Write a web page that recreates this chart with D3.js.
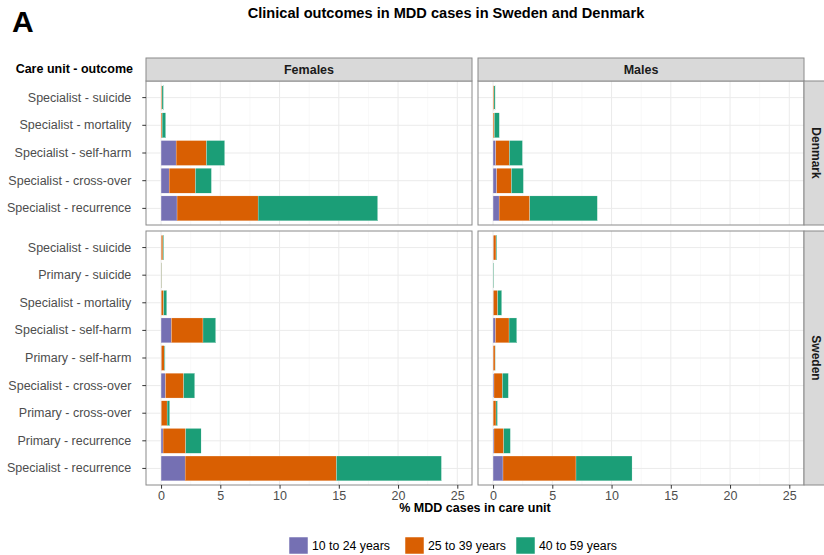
<!DOCTYPE html>
<html>
<head>
<meta charset="utf-8">
<script src="https://cdn.jsdelivr.net/npm/d3@7"></script>
<style>
  body { margin: 0; background: #fff; }
  svg { font-family: "Liberation Sans", Arial, sans-serif; display: block; }
</style>
</head>
<body>
<script>
// Clinical outcomes in MDD cases - stacked bars, faceted sex x country

var ageGroups = ["10 to 24 years", "25 to 39 years", "40 to 59 years"];
var ageColors = ["#7570B3", "#D95F02", "#1B9E77"];
var sexes = ["Females", "Males"];
var countries = ["Denmark", "Sweden"];
var xTicks = [0, 5, 10, 15, 20, 25];

var denmarkOutcomes = ["Specialist - suicide", "Specialist - mortality", "Specialist - self-harm",
  "Specialist - cross-over", "Specialist - recurrence"];
var swedenOutcomes = ["Specialist - suicide", "Primary - suicide", "Specialist - mortality",
  "Specialist - self-harm", "Primary - self-harm", "Specialist - cross-over",
  "Primary - cross-over", "Primary - recurrence", "Specialist - recurrence"];

// % per age group: [10-24, 25-39, 40-59]
var denmarkFemales = [[0.02, 0.06, 0.12], [0.01, 0.08, 0.30], [1.27, 2.56, 1.54], [0.68, 2.22, 1.35], [1.35, 6.84, 10.09]];
var denmarkMales = [[0.01, 0.07, 0.10], [0.01, 0.10, 0.42], [0.23, 1.15, 1.10], [0.31, 1.24, 1.01], [0.51, 2.59, 5.70]];
var swedenFemales = [[0.02, 0.14, 0.06], [0.005, 0.03, 0.02], [0.02, 0.20, 0.26], [0.87, 2.67, 1.07], [0.03, 0.25, 0.06],
  [0.37, 1.54, 0.93], [0.02, 0.49, 0.22], [0.17, 1.91, 1.30], [2.03, 12.77, 8.86]];
var swedenMales = [[0.03, 0.22, 0.06], [0.005, 0.02, 0.05], [0.03, 0.36, 0.34], [0.20, 1.15, 0.65], [0.01, 0.16, 0.02],
  [0.08, 0.71, 0.50], [0.01, 0.24, 0.12], [0.08, 0.82, 0.56], [0.84, 6.16, 4.73]];

var W = 824, H = 555;
var svg = d3.select("body").append("svg").attr("width", W).attr("height", H);

// layout
var colX = [[146, 472], [478, 804]];
var rowY = [[81, 225], [231, 485]];
var stripTop = 58, stripRight = 827;
var gridCol = "#EBEBEB", borderCol = "#8a8a8a", stripFill = "#D9D9D9", axisText = "#4D4D4D";

var panels = [
  {col: 0, row: 0, outcomes: denmarkOutcomes, values: denmarkFemales},
  {col: 1, row: 0, outcomes: denmarkOutcomes, values: denmarkMales},
  {col: 0, row: 1, outcomes: swedenOutcomes, values: swedenFemales},
  {col: 1, row: 1, outcomes: swedenOutcomes, values: swedenMales}
];

var keys = ["k0", "k1", "k2"];
var stack = d3.stack().keys(keys);

panels.forEach(function(p) {
  var x = d3.scaleLinear().domain([-1.27, 26.24]).range(colX[p.col]);
  var y = d3.scaleBand().domain(p.outcomes).range(rowY[p.row]).paddingInner(0.1).paddingOuter(0.15);
  var g = svg.append("g");

  // background + grid
  g.append("rect").attr("x", colX[p.col][0]).attr("y", rowY[p.row][0])
    .attr("width", colX[p.col][1] - colX[p.col][0]).attr("height", rowY[p.row][1] - rowY[p.row][0])
    .attr("fill", "#fff");
  var minor = d3.range(2.5, 26, 5);
  g.selectAll("line.minor").data(minor).enter().append("line")
    .attr("x1", function(d) { return x(d); }).attr("x2", function(d) { return x(d); })
    .attr("y1", rowY[p.row][0]).attr("y2", rowY[p.row][1])
    .attr("stroke", "#F3F3F3").attr("stroke-width", 0.6);
  g.selectAll("line.major").data(xTicks).enter().append("line")
    .attr("x1", function(d) { return x(d); }).attr("x2", function(d) { return x(d); })
    .attr("y1", rowY[p.row][0]).attr("y2", rowY[p.row][1])
    .attr("stroke", gridCol).attr("stroke-width", 1);
  g.selectAll("line.hgrid").data(p.outcomes).enter().append("line")
    .attr("x1", colX[p.col][0]).attr("x2", colX[p.col][1])
    .attr("y1", function(d) { return y(d) + y.bandwidth() / 2; })
    .attr("y2", function(d) { return y(d) + y.bandwidth() / 2; })
    .attr("stroke", gridCol).attr("stroke-width", 1);

  // stacked bars
  var rows = p.outcomes.map(function(o, i) {
    return {outcome: o, k0: p.values[i][0], k1: p.values[i][1], k2: p.values[i][2]};
  });
  var series = stack(rows);
  series.forEach(function(s, si) {
    g.selectAll("rect.s" + si).data(s).enter().append("rect")
      .attr("x", function(d) { return x(d[0]); })
      .attr("width", function(d) { return Math.max(0, x(d[1]) - x(d[0])); })
      .attr("y", function(d) { return y(d.data.outcome); })
      .attr("height", y.bandwidth())
      .attr("fill", ageColors[si])
      .attr("stroke", "#fff").attr("stroke-width", 0.25);
  });

  // border
  g.append("rect").attr("x", colX[p.col][0]).attr("y", rowY[p.row][0])
    .attr("width", colX[p.col][1] - colX[p.col][0]).attr("height", rowY[p.row][1] - rowY[p.row][0])
    .attr("fill", "none").attr("stroke", borderCol).attr("stroke-width", 1);

  // y axis on the left column
  if (p.col == 0) {
    var ya = g.append("g").attr("transform", "translate(" + colX[0][0] + ",0)")
      .call(d3.axisLeft(y).tickSize(3.7).tickPadding(11));
    ya.select(".domain").remove();
    ya.selectAll("line").attr("stroke", "#333");
    ya.selectAll("text").attr("fill", axisText).style("font-size", "12.5px");
  }
  // x axis at the bottom row
  if (p.row == 1) {
    var xa = g.append("g").attr("transform", "translate(0," + rowY[1][1] + ")")
      .call(d3.axisBottom(x).tickValues(xTicks).tickSize(3.7).tickPadding(2));
    xa.select(".domain").remove();
    xa.selectAll("line").attr("stroke", "#333");
    xa.selectAll("text").attr("fill", axisText).style("font-size", "12.5px");
  }
});

// top strips
sexes.forEach(function(s, i) {
  svg.append("rect").attr("x", colX[i][0]).attr("y", stripTop)
    .attr("width", colX[i][1] - colX[i][0]).attr("height", rowY[0][0] - stripTop)
    .attr("fill", stripFill).attr("stroke", borderCol);
  svg.append("text").attr("x", (colX[i][0] + colX[i][1]) / 2).attr("y", (stripTop + rowY[0][0]) / 2 + 4.5)
    .attr("text-anchor", "middle").style("font-size", "12.5px").style("font-weight", "bold")
    .attr("fill", "#1a1a1a").text(s);
});

// right strips
countries.forEach(function(c, i) {
  svg.append("rect").attr("x", colX[1][1]).attr("y", rowY[i][0])
    .attr("width", stripRight - colX[1][1]).attr("height", rowY[i][1] - rowY[i][0])
    .attr("fill", stripFill).attr("stroke", borderCol);
  svg.append("text")
    .attr("transform", "translate(" + 812 + "," + (rowY[i][0] + rowY[i][1]) / 2 + ") rotate(90)")
    .attr("text-anchor", "middle").style("font-size", "12px").style("font-weight", "bold")
    .attr("fill", "#1a1a1a").text(c);
});

// titles
svg.append("text").attr("x", 12).attr("y", 32).style("font-size", "30px").style("font-weight", "bold")
  .attr("fill", "#000").text("A");
svg.append("text").attr("x", 446).attr("y", 18).attr("text-anchor", "middle")
  .style("font-size", "14.6px").style("font-weight", "bold").attr("fill", "#000")
  .text("Clinical outcomes in MDD cases in Sweden and Denmark");
svg.append("text").attr("x", 133).attr("y", 73).attr("text-anchor", "end")
  .style("font-size", "12.5px").style("font-weight", "bold").attr("fill", "#000")
  .text("Care unit - outcome");
svg.append("text").attr("x", 475).attr("y", 512).attr("text-anchor", "middle")
  .style("font-size", "12.5px").style("font-weight", "bold").attr("fill", "#000")
  .text("% MDD cases in care unit");

// legend
var legendX = [289, 405, 516];
ageGroups.forEach(function(a, i) {
  svg.append("rect").attr("x", legendX[i]).attr("y", 537).attr("width", 19).attr("height", 17)
    .attr("fill", ageColors[i]).attr("stroke", "#fff").attr("stroke-width", 0.5);
  svg.append("text").attr("x", legendX[i] + 23).attr("y", 550)
    .style("font-size", "12.3px").attr("fill", "#000").text(a);
});
</script>
</body>
</html>
